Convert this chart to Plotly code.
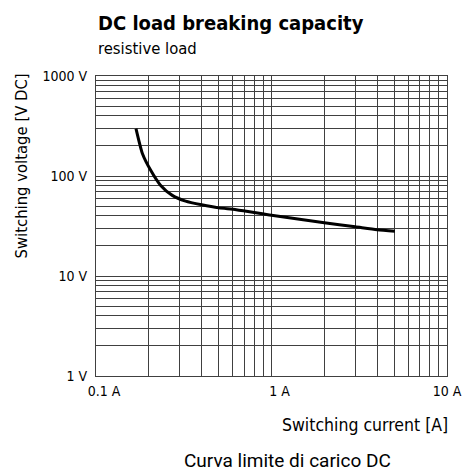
import plotly.graph_objects as go

# Data
current_a = [0.169, 0.184, 0.205, 0.233, 0.272, 0.324, 0.40, 0.50, 0.63, 1.0, 2.0, 3.0, 4.0, 5.05]
voltage_v = [298, 167, 114, 81, 64, 56, 51.5, 48, 46, 40.5, 34, 31, 29, 28]

y_major = [1, 10, 100, 1000]
y_major_text = ["1 V", "10 V", "100 V", "1000 V"]
x_major = [0.1, 1, 10]
x_major_text = ["\u00a0\u00a0\u00a0\u00a00.1 A", "\u00a0\u00a0\u00a0\u00a01 A", "10 A"]

x_minor = [m * d for d in (0.1, 1) for m in range(2, 10)]
y_minor = [m * d for d in (1, 10, 100) for m in range(2, 10)]

NARROW = "Liberation Sans Narrow, DejaVu Sans Condensed, Arial Narrow, sans-serif"
GRID = "#404040"

fig = go.Figure()
fig.add_trace(go.Scatter(
    x=current_a, y=voltage_v, mode="lines",
    line=dict(color="black", width=3, shape="spline", smoothing=0.6),
    hoverinfo="skip", showlegend=False,
))

# page body has an 8px margin, so the figure is drawn 8px smaller and offset
fig.update_layout(
    width=466, height=468,
    margin=dict(l=88, r=24, t=68, b=100),
    paper_bgcolor="white", plot_bgcolor="white",
    showlegend=False,
    font=dict(family=NARROW, color="black", size=14),
)

fig.update_xaxes(
    type="log", range=[-1, 1],
    tickvals=x_major, ticktext=x_major_text,
    showgrid=True, gridcolor=GRID, gridwidth=1,
    minor=dict(tickvals=x_minor, showgrid=True, gridcolor=GRID, gridwidth=1, ticks=""),
    showline=True, linecolor=GRID, linewidth=1, mirror=True,
    ticks="", ticklabelstandoff=2,
    tickfont=dict(family=NARROW, size=14, color="black"),
    zeroline=False,
)
fig.update_yaxes(
    type="log", range=[0, 3],
    tickvals=y_major, ticktext=y_major_text,
    showgrid=True, gridcolor=GRID, gridwidth=1,
    minor=dict(tickvals=y_minor, showgrid=True, gridcolor=GRID, gridwidth=1, ticks=""),
    showline=True, linecolor=GRID, linewidth=1, mirror=True,
    ticks="", ticklabelstandoff=5,
    tickfont=dict(family=NARROW, size=14, color="black"),
    zeroline=False,
)

annotations = [
    dict(text="<b>DC load breaking capacity</b>", x=0, y=1.175, xref="paper", yref="paper",
         xanchor="left", yanchor="middle", showarrow=False,
         font=dict(family=NARROW, size=20, color="black")),
    dict(text="resistive load", x=0, y=1.09, xref="paper", yref="paper",
         xanchor="left", yanchor="middle", showarrow=False,
         font=dict(family=NARROW, size=16.5, color="black")),
    dict(text="Switching voltage [V DC]", x=-0.215, y=0.70, xref="paper", yref="paper",
         xanchor="center", yanchor="middle", textangle=-90, showarrow=False,
         font=dict(family=NARROW, size=16.5, color="black")),
    dict(text="Switching current [A]", x=1.008, y=-0.163, xref="paper", yref="paper",
         xanchor="right", yanchor="middle", showarrow=False,
         font=dict(family=NARROW, size=17.5, color="black")),
    dict(text="Curva limite di carico DC", x=0.545, y=-0.28, xref="paper", yref="paper",
         xanchor="center", yanchor="middle", showarrow=False,
         font=dict(family="Roboto, sans-serif", size=19, color="black")),
]
fig.update_layout(annotations=annotations)

fig.write_html("out.html")
